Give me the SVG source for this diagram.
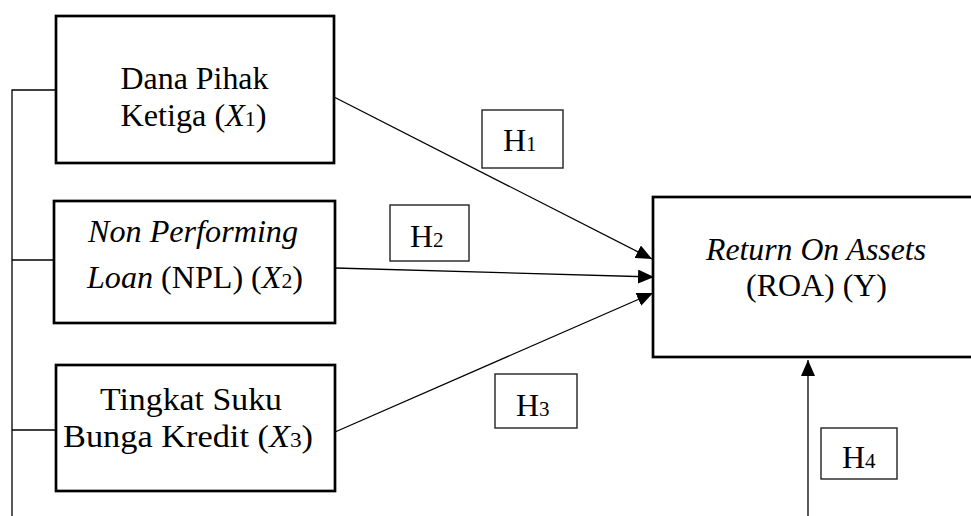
<svg xmlns="http://www.w3.org/2000/svg" width="971" height="516" viewBox="0 0 971 516">
<defs>
<marker id="arr" viewBox="0 0 16 14" refX="16" refY="7" markerWidth="16" markerHeight="14" markerUnits="userSpaceOnUse" orient="auto">
<path d="M0,0 L16,7 L0,14 Z" fill="#000"/>
</marker>
</defs>
<style>
.box{fill:#fff;stroke:#000;stroke-width:2.7}
.hbox{fill:#fff;stroke:#222;stroke-width:1.4}
.t{font-family:"Liberation Serif","Times New Roman",serif;font-size:31px;fill:#000}
.h{font-family:"Liberation Serif","Times New Roman",serif;font-size:32px;fill:#000}
.i{font-style:italic}
.sub{font-size:21px}
.ln{fill:none;stroke:#000;stroke-width:1.3}
</style>
<rect width="971" height="516" fill="#fff"/>
<g id="connectors">
<path class="ln" d="M12,516 V90 H56"/>
<path class="ln" d="M12,260 H54"/>
<path class="ln" d="M12,430 H56"/>
<line class="ln" x1="334" y1="97" x2="652" y2="259" marker-end="url(#arr)"/>
<line class="ln" x1="335" y1="268" x2="654" y2="277" marker-end="url(#arr)"/>
<line class="ln" x1="335" y1="432" x2="653" y2="293" marker-end="url(#arr)"/>
<line class="ln" x1="808" y1="516" x2="808" y2="360" marker-end="url(#arr)"/>
</g>
<g id="x1">
<rect class="box" x="56" y="16" width="278" height="147"/>
<text class="t" x="120.5" y="89" textLength="148" lengthAdjust="spacingAndGlyphs">Dana Pihak</text>
<text class="t" x="120.5" y="126" textLength="146" lengthAdjust="spacingAndGlyphs">Ketiga (<tspan class="i">X</tspan><tspan class="sub">1</tspan>)</text>
</g>
<g id="x2">
<rect class="box" x="54" y="201" width="281" height="122"/>
<text class="t i" x="88" y="242" textLength="210" lengthAdjust="spacingAndGlyphs">Non Performing</text>
<text class="t" x="87" y="288" textLength="216" lengthAdjust="spacingAndGlyphs"><tspan class="i">Loan</tspan> (NPL) (<tspan class="i">X</tspan><tspan class="sub">2</tspan>)</text>
</g>
<g id="x3">
<rect class="box" x="56" y="365" width="279" height="126"/>
<text class="t" x="100" y="410" textLength="182" lengthAdjust="spacingAndGlyphs">Tingkat Suku</text>
<text class="t" x="63" y="447" textLength="250" lengthAdjust="spacingAndGlyphs">Bunga Kredit (<tspan class="i">X</tspan><tspan class="sub">3</tspan>)</text>
</g>
<g id="y">
<rect class="box" x="653" y="197" width="330" height="160"/>
<text class="t i" x="706" y="260" textLength="220" lengthAdjust="spacingAndGlyphs">Return On Assets</text>
<text class="t" x="746" y="296" textLength="141" lengthAdjust="spacingAndGlyphs">(ROA) (Y)</text>
</g>
<g id="h1">
<rect class="hbox" x="482" y="110" width="81" height="58"/>
<text class="h" x="503" y="151">H<tspan class="sub">1</tspan></text>
</g>
<g id="h2">
<rect class="hbox" x="390" y="205" width="79" height="56"/>
<text class="h" x="410" y="247">H<tspan class="sub">2</tspan></text>
</g>
<g id="h3">
<rect class="hbox" x="495" y="374" width="82" height="54"/>
<text class="h" x="516" y="416">H<tspan class="sub">3</tspan></text>
</g>
<g id="h4">
<rect class="hbox" x="821" y="428" width="76" height="51"/>
<text class="h" x="842" y="468">H<tspan class="sub">4</tspan></text>
</g>
</svg>
